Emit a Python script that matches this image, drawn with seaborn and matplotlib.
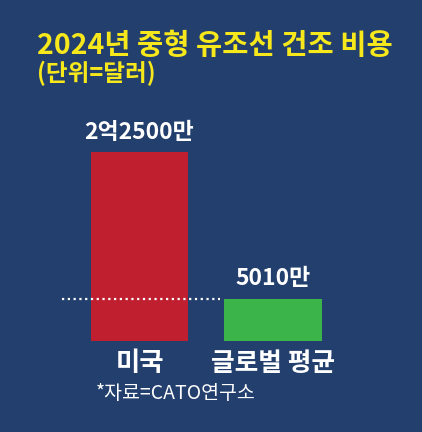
import matplotlib
matplotlib.use("Agg")
import matplotlib.pyplot as plt
import seaborn as sns
import pandas as pd

# data (unit: 만 달러)
categories = ["미국", "글로벌 평균"]
values = [22500, 5010]
value_labels = ["2억2500만", "5010만"]
bar_colors = ["#c01f2f", "#3bb44a"]

title = "2024년 중형 유조선 건조 비용"
subtitle = "(단위=달러)"
source = "*자료=CATO연구소"

bg = "#233f6e"
yellow = "#f7e81c"

sns.set_theme(style="white")
plt.rcParams["font.family"] = ["Noto Sans CJK KR", "DejaVu Sans"]

df = pd.DataFrame({"cat": categories, "val": values})

fig = plt.figure(figsize=(4.22, 4.32), dpi=100)
fig.patch.set_facecolor(bg)
ax = fig.add_axes([0.1408, 0.2106, 0.696, 0.4375])
ax.set_facecolor(bg)

sns.barplot(data=df, x="cat", y="val", hue="cat", palette=bar_colors,
            width=0.727, legend=False, ax=ax, saturation=1,
            edgecolor="none", linewidth=0)
ax.set_xlim(-0.6, 1.6)
ax.set_ylim(0, values[0])
ax.axis("off")

# dotted reference line at the global average, drawn over the red bar
ax.plot([-0.58, 0.6], [values[1], values[1]], color="white", lw=1.6,
        linestyle=(0, (1, 1.6)), zorder=5)

for i, (v, lab) in enumerate(zip(values, value_labels)):
    ax.text(i, v + values[0] * 0.045, lab, ha="center", va="bottom",
            color="white", fontsize=16.5, fontweight="bold")
ax.text(0, -values[0] * 0.045, categories[0], ha="center", va="top",
        color="white", fontsize=19, fontweight="bold")
ax.text(1, -values[0] * 0.045, categories[1], ha="center", va="top",
        color="white", fontsize=18.5, fontweight="bold")

fig.text(0.088, 0.893, title, color=yellow, fontsize=20.5, fontweight="bold",
         ha="left", va="center")
fig.text(0.088, 0.830, subtitle, color=yellow, fontsize=17, fontweight="bold",
         ha="left", va="center")
fig.text(0.228, 0.09, source, color="white", fontsize=14,
         ha="left", va="center")

fig.savefig("out.png", dpi=100, facecolor=bg)
